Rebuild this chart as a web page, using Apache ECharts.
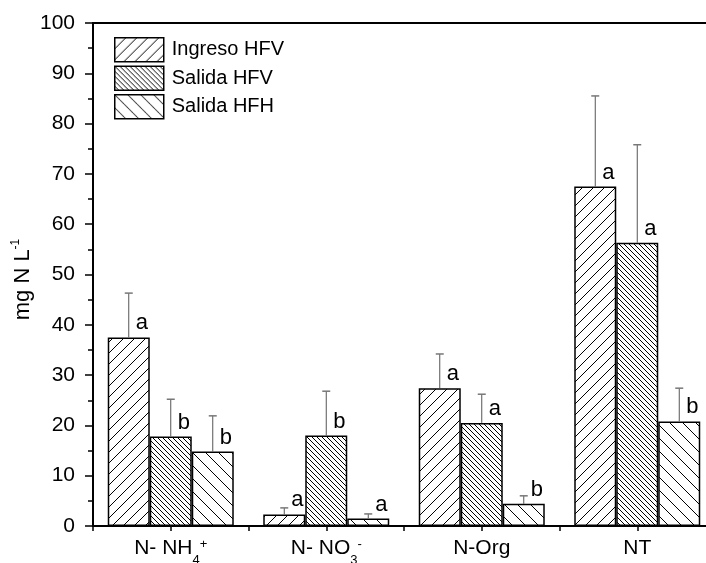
<!DOCTYPE html>
<html><head><meta charset="utf-8">
<script src="https://cdn.jsdelivr.net/npm/echarts@6/dist/echarts.min.js"></script>
<style>html,body{margin:0;padding:0;background:#fff}#c{width:706px;height:563px}</style>
</head><body><div id="c"></div>
<script>
// ---- data ----
const categories = ['N-NH4+', 'N-NO3-', 'N-Org', 'NT'];
const categoryLabels = ['{b|N- NH}{sub|4}{sup|+}', '{b|N- NO}{sub|3}{sup|-}', '{b|N-Org}', '{b|NT}'];
const seriesNames = ['Ingreso HFV', 'Salida HFV', 'Salida HFH'];
const ingresoHFV = [37.5, 2.3, 27.4, 67.5];
const ingresoHFVErr = [8.8, 1.3, 6.8, 18.0];
const salidaHFV = [17.8, 18.0, 20.5, 56.3];
const salidaHFVErr = [7.4, 8.8, 5.7, 19.5];
const salidaHFH = [14.8, 1.5, 4.4, 20.8];
const salidaHFHErr = [7.1, 0.9, 1.6, 6.6];
const ingresoHFVLetters = ['a', 'a', 'a', 'a'];
const salidaHFVLetters = ['b', 'b', 'a', 'a'];
const salidaHFHLetters = ['b', 'a', 'b', 'b'];
const yTicks = {min: 0, max: 100, interval: 10};

// ---- style ----
const FONT = 'Liberation Sans, Arial, Helvetica, sans-serif';
const BAR_W = 42;

function hatch(period, dir) {
  const c = document.createElement('canvas');
  c.width = period; c.height = period;
  const g = c.getContext('2d');
  g.fillStyle = '#fff'; g.fillRect(0, 0, period, period);
  g.strokeStyle = '#000'; g.lineWidth = 1;
  g.beginPath();
  for (let k = -1; k <= 1; k++) {
    if (dir === '/') { g.moveTo(k * period - 1, period + 1); g.lineTo(k * period + period + 1, -1); }
    else { g.moveTo(k * period - 1, -1); g.lineTo(k * period + period + 1, period + 1); }
  }
  g.stroke();
  return {image: c, repeat: 'repeat'};
}
const patterns = [hatch(11, '/'), hatch(5, '\\'), hatch(13, '\\')];

const values = [ingresoHFV, salidaHFV, salidaHFH];
const errs = [ingresoHFVErr, salidaHFVErr, salidaHFHErr];
const letters = [ingresoHFVLetters, salidaHFVLetters, salidaHFHLetters];

const errData = [];
const errLetters = [];
for (let s = 0; s < 3; s++) for (let i = 0; i < categories.length; i++) {
  errData.push([i, s, values[s][i], errs[s][i]]);
  errLetters.push(letters[s][i]);
}

const chart = echarts.init(document.getElementById('c'), null, {renderer: 'canvas'});
const barSeries = seriesNames.map((n, s) => ({
  name: n, type: 'bar', data: values[s], xAxisIndex: 0, yAxisIndex: 0,
  barWidth: BAR_W, barGap: '0%',
  itemStyle: {color: patterns[s], borderColor: '#000', borderWidth: 1.5},
  emphasis: {disabled: true}, animation: false
}));

chart.setOption({
  animation: false,
  backgroundColor: '#fff',
  grid: {left: 93, right: -9, top: 23, bottom: 37, outerBoundsMode: 'none', containLabel: false},
  legend: {
    data: seriesNames, orient: 'vertical', left: 109, top: 32,
    itemWidth: 49, itemHeight: 24, itemGap: 3, icon: 'rect',
    itemStyle: {borderColor: '#000', borderWidth: 1.5},
    textStyle: {fontSize: 20, color: '#000', fontFamily: FONT, padding: [0, 0, 0, 3]},
    selectedMode: false
  },
  xAxis: [
    {type: 'category', data: categories, position: 'bottom',
     axisLine: {show: true, lineStyle: {color: '#000', width: 2}},
     axisTick: {show: true, length: 5, interval: 0, lineStyle: {color: '#000', width: 1.5}},
     axisLabel: {formatter: (v, i) => categoryLabels[i], margin: 4, interval: 0, color: '#000',
       rich: {
         b: {fontSize: 21, fontFamily: FONT, color: '#000', lineHeight: 37, verticalAlign: 'middle'},
         sub: {fontSize: 13, fontFamily: FONT, color: '#000', lineHeight: 12, verticalAlign: 'bottom'},
         sup: {fontSize: 13, fontFamily: FONT, color: '#000', verticalAlign: 'top', padding: [8, 0, 0, 0]}
       }},
     splitLine: {show: false}},
    {type: 'category', data: categories, position: 'bottom',
     axisLine: {show: false},
     axisTick: {show: true, alignWithLabel: true, interval: 0, length: 5, lineStyle: {color: '#000', width: 1.5}},
     axisLabel: {show: false}, splitLine: {show: false}},
    {type: 'category', data: categories, position: 'top',
     axisLine: {show: true, lineStyle: {color: '#000', width: 2}},
     axisTick: {show: false}, axisLabel: {show: false}, splitLine: {show: false}}
  ],
  yAxis: {
    type: 'value', min: yTicks.min, max: yTicks.max, interval: yTicks.interval,
    axisLine: {show: true, lineStyle: {color: '#000', width: 2}},
    axisTick: {show: true, length: 8, lineStyle: {color: '#000', width: 1.5}},
    minorTick: {show: true, splitNumber: 2, length: 5, lineStyle: {color: '#000', width: 1.5}},
    splitLine: {show: false},
    axisLabel: {fontSize: 21, color: '#000', fontFamily: FONT, margin: 18},
    name: '{t|mg N L}{s|-1}', nameLocation: 'middle', nameGap: 57, nameRotate: 90,
    nameMoveOverlap: false,
    nameTextStyle: {padding: [0, 10, 0, 0], rich: {
      t: {fontSize: 22, fontFamily: FONT, color: '#000', lineHeight: 26, verticalAlign: 'middle'},
      s: {fontSize: 12, fontFamily: FONT, color: '#000', lineHeight: 14, verticalAlign: 'top'}
    }}
  },
  series: barSeries.concat([{
    type: 'custom', xAxisIndex: 0, yAxisIndex: 0, data: errData, z: 5,
    encode: {x: 0, y: 2},
    renderItem: function (params, api) {
      const cat = api.value(0), s = api.value(1), v = api.value(2), e = api.value(3);
      const p = api.coord([cat, v]);
      const pt = api.coord([cat, v + e]);
      const x = p[0] + (s - 1) * BAR_W;
      return {type: 'group', children: [
        {type: 'line', shape: {x1: x, y1: p[1], x2: x, y2: pt[1]}, style: {stroke: '#555', lineWidth: 1}},
        {type: 'line', shape: {x1: x - 4, y1: pt[1], x2: x + 4, y2: pt[1]}, style: {stroke: '#777', lineWidth: 1.5}},
        {type: 'text', style: {text: errLetters[params.dataIndex], x: x + 7, y: p[1] - 3,
          fontSize: 22, fontFamily: FONT, fill: '#000', align: 'left', verticalAlign: 'bottom'}}
      ]};
    }
  }])
});
</script></body></html>
